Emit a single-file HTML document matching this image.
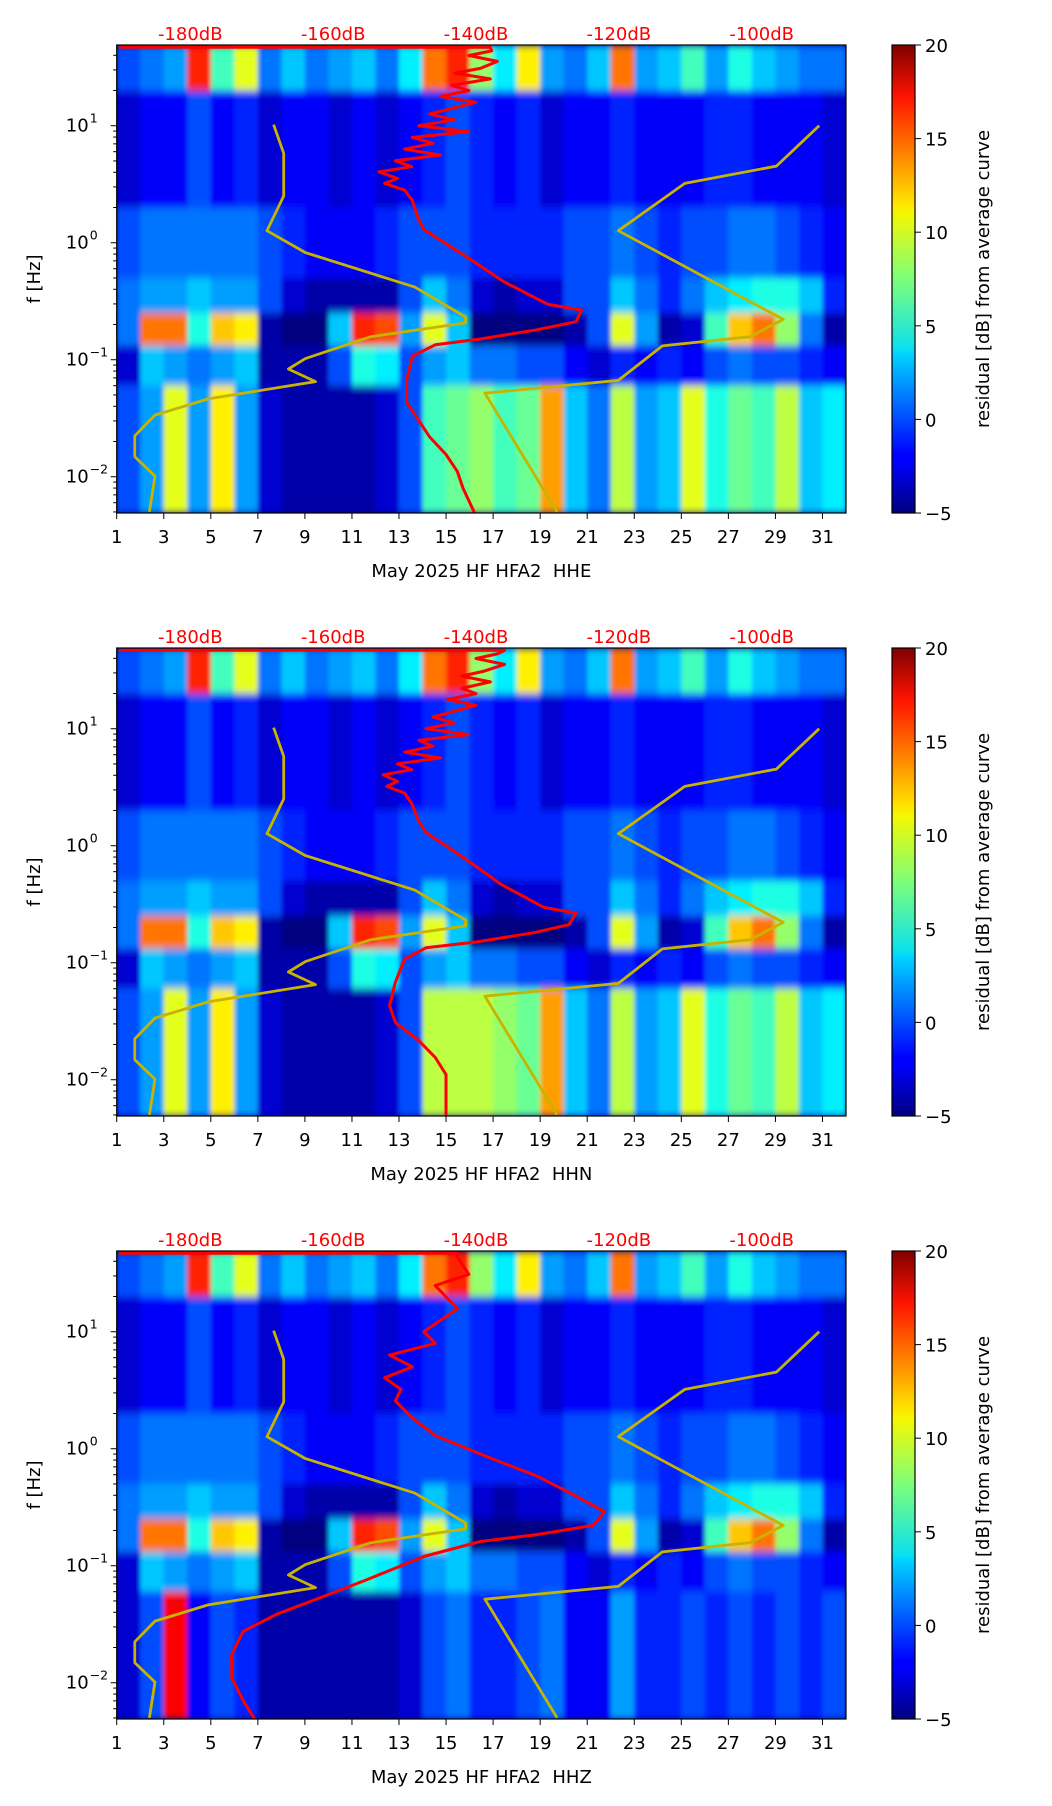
<!DOCTYPE html>
<html><head><meta charset="utf-8">
<style>
html,body{margin:0;padding:0;background:#fff;}
svg{display:block;font-family:"DejaVu Sans","Liberation Sans",sans-serif;}
</style></head>
<body>
<svg id="fig" width="1052" height="1806" viewBox="0 0 1052 1806" xmlns="http://www.w3.org/2000/svg">
<defs>
<linearGradient id="jetgrad" x1="0" y1="1" x2="0" y2="0">
<stop offset="0" stop-color="#00007f"/><stop offset="0.11" stop-color="#0000ff"/><stop offset="0.125" stop-color="#0000ff"/>
<stop offset="0.34" stop-color="#00d4ff"/><stop offset="0.35" stop-color="#0ae0f0"/><stop offset="0.5" stop-color="#7cff7a"/>
<stop offset="0.64" stop-color="#f4f802"/><stop offset="0.66" stop-color="#ffe600"/><stop offset="0.89" stop-color="#ff1300"/><stop offset="1" stop-color="#7f0000"/>
</linearGradient>
<filter id="soft" x="0" y="0" width="1" height="1"><feGaussianBlur stdDeviation="2 4"/></filter>
</defs>
</svg>
<script>
// ---- data ----
const dayTicks = [1,3,5,7,9,11,13,15,17,19,21,23,25,27,29,31];
const dbTicks = [-180,-160,-140,-120,-100];
const yTickExp = [-2,-1,0,1];
const cbarTicks = [20,15,10,5,0,-5];
const bandEdgesLogF = [1.69,1.3,0.3,-0.3,-0.6,-0.88,-1.22,-2.31];
const rowHigh = [0,1,2,16,6,10,1,3,1,2,3,1,4,14,16,8,4,11,2,1,3,14,2,3,6,2,5,3,2,1,1];
const rowMid = [-3,-2,-2,0,-2,-1,-3,-2,-2,-3,-2,-3,-2,-1,0,-1,-2,-1,-3,-2,-2,-1,-2,-2,-2,-1,-1,-2,-2,-2,-3];
const rowHaze = [0,1,1,1,1,1,0,-1,-2,-2,-2,-1,0,0,0,-1,-1,-1,-1,0,0,1,0,-1,0,0,1,1,0,-1,-2];
const rowUpperMicro = [1,2,2,3,2,2,0,-3,-4,-4,-4,-4,0,3,1,-3,-4,-3,-3,0,0,3,1,-1,1,3,4,5,5,3,-1];
const rowPeak = [1,14,14,5,12,11,-4,-5,-5,3,16,15,2,10,3,-5,-5,-5,-5,-4,0,10,2,-4,-3,6,12,14,8,1,-4];
const rowLowMicro = [-3,3,2,1,2,3,-4,-4,-4,0,5,4,0,2,3,1,1,0,0,-2,-3,-1,-2,-1,-2,0,1,0,0,-1,-2];
const rowBottomHHE = [0,2,10,2,11,2,-3,-4,-4,-4,-4,-3,0,6,7,8,6,7,13,3,1,9,2,3,10,5,7,6,9,3,4];
const rowBottomHHN = [0,2,10,2,11,2,-3,-4,-4,-4,-4,-3,0,9,9,9,8,7,13,3,1,9,2,3,10,5,7,6,9,3,4];
const rowBottomHHZ = [-3,0,17,-2,0,-1,-4,-4,-4,-4,-4,-4,-3,0,1,-1,-1,0,1,-2,-2,2,-1,-1,0,-1,0,-1,0,-1,0];
// yellow reference curves (day, log10 Hz)
const yelA_day = [7.67,8.10,8.10,7.39,9.02,13.67,15.83,15.83,11.80,9.02,8.30,9.45,4.89,2.63,1.77,1.77,2.63,2.39];
const yelA_logF = [1.01,0.764,0.399,0.103,-0.084,-0.379,-0.635,-0.685,-0.803,-0.99,-1.079,-1.187,-1.335,-1.473,-1.65,-1.83,-1.995,-2.30];
const yelB_day = [30.86,29.04,25.15,22.32,29.33,27.93,24.19,22.32,16.65,19.72];
const yelB_logF = [1.0,0.655,0.507,0.103,-0.655,-0.803,-0.882,-1.177,-1.286,-2.30];
// red mean PSD curves (log10 Hz, dB)
const red1_logF = [1.67,1.67,1.64,1.60,1.55,1.49,1.45,1.40,1.345,1.30,1.25,1.20,1.10,1.05,1.0,0.95,0.90,0.85,0.80,0.75,0.70,0.65,0.606,0.55,0.507,0.45,0.36,0.21,0.113,-0.133,-0.33,-0.527,-0.576,-0.675,-0.744,-0.823,-0.872,-0.97,-1.167,-1.364,-1.51,-1.66,-1.81,-1.956,-2.10,-2.31];
const red1_db = [-190,-138,-137.8,-141,-137,-139.4,-143,-138,-143.4,-141,-145,-140,-146.5,-143,-148,-141,-148.9,-146,-150,-145,-151.3,-149,-153.6,-151,-152.8,-150,-148.9,-148.1,-147.3,-141,-136.2,-129.9,-125.2,-126,-131.5,-139.4,-145.7,-148.9,-149.7,-149.7,-148.1,-146.5,-144.2,-142.6,-141.8,-140.2];
const red2_logF = [1.67,1.67,1.64,1.60,1.55,1.49,1.45,1.40,1.345,1.30,1.25,1.20,1.10,1.05,1.0,0.95,0.90,0.85,0.80,0.75,0.70,0.65,0.606,0.55,0.507,0.45,0.36,0.21,0.113,-0.133,-0.33,-0.527,-0.576,-0.675,-0.744,-0.823,-0.872,-0.97,-1.167,-1.364,-1.51,-1.66,-1.81,-1.956,-2.10,-2.31];
const red2_db = [-190,-136,-137,-140,-136,-139,-142,-138,-142,-140,-144,-140,-146,-143,-147,-141,-148,-146,-150,-145,-151,-149,-153,-151,-152.5,-150,-149,-148,-147,-141,-136.5,-130.5,-126,-127,-132,-140,-147,-150,-151.3,-152.1,-151.3,-148.1,-145.7,-144.2,-144.2,-144.2];
const red3_logF = [1.67,1.67,1.64,1.49,1.394,1.197,1.0,0.90,0.80,0.70,0.606,0.507,0.409,0.261,0.113,-0.084,-0.232,-0.379,-0.537,-0.655,-0.734,-0.793,-0.921,-1.118,-1.266,-1.414,-1.562,-1.759,-1.956,-2.153,-2.31];
const red3_db = [-190,-142.6,-142.6,-141,-145.7,-142.6,-147.3,-145.7,-152.1,-148.9,-152.8,-150.5,-151.3,-148.9,-145.7,-137.8,-131.5,-126.8,-122,-123.6,-131.5,-139.4,-147.3,-155.2,-161.5,-167.9,-172.6,-174.2,-174.2,-172.6,-171];
const panelNames = ["HHE","HHN","HHZ"];

// ---- layout ----
const L=116.7, R=846, H=468, tops=[45,648,1251];
const dayMin=1, dayMax=32, lfMin=-2.31, lfMax=1.69, dbMin=-190.3, dbMax=-88.2;
const CBX=892, CBW=23;
const NS="http://www.w3.org/2000/svg";
const svg=document.getElementById('fig');
function xDay(d){return L+(d-dayMin)/(dayMax-dayMin)*(R-L);}
function xDb(v){return L+(v-dbMin)/(dbMax-dbMin)*(R-L);}
function yF(top,lf){return top+(lfMax-lf)/(lfMax-lfMin)*H;}
function mk(tag,attrs,parent){const e=document.createElementNS(NS,tag);for(const k in attrs)e.setAttribute(k,attrs[k]);(parent||svg).appendChild(e);return e;}
function jet(v){let t=(v+5)/25;t=Math.max(0,Math.min(1,t));
 const r=Math.min(1,Math.max(0,Math.min(4*t-1.5,-4*t+4.5)));
 const g=Math.min(1,Math.max(0,Math.min(4*t-0.5,-4*t+3.5)));
 const b=Math.min(1,Math.max(0,Math.min(4*t+0.5,-4*t+2.5)));
 return `rgb(${Math.round(r*255)},${Math.round(g*255)},${Math.round(b*255)})`;}

tops.forEach((top,pi)=>{
 const rows=[rowHigh,rowMid,rowHaze,rowUpperMicro,rowPeak,rowLowMicro,[rowBottomHHE,rowBottomHHN,rowBottomHHZ][pi]];
 const g=mk('g',{});
 
 
 const cid='clip'+pi;
 const cp=mk('clipPath',{id:cid},g);mk('rect',{x:L,y:top,width:R-L,height:H},cp);
 const hm=mk('g',{'clip-path':`url(#${cid})`},g);
 
 
 mk('rect',{x:L,y:top,width:R-L,height:H,fill:'#00008f'},hm);
 const inner=mk('g',{filter:'url(#soft)'},hm);
 rows.forEach((vals,ri)=>{
  const y0=yF(top,bandEdgesLogF[ri]), y1=yF(top,bandEdgesLogF[ri+1]);
  vals.forEach((v,di)=>{
   const d=dayMin+di;
   const c=mk('rect',{x:xDay(d),y:y0,width:xDay(d+1)-xDay(d)+0.5,height:y1-y0+0.5,fill:jet(v)},inner);
   
   
  });
 });
 [[yelA_day,yelA_logF],[yelB_day,yelB_logF]].forEach((s,si)=>{
  const pts=s[0].map((d,i)=>xDay(d).toFixed(1)+','+yF(top,s[1][i]).toFixed(1)).join(' ');
  const pl=mk('polyline',{points:pts,fill:'none',stroke:'#c8b400',"stroke-width":2.8,"stroke-linejoin":'round'},hm);
  
  
 });
 const rl=[[red1_logF,red1_db],[red2_logF,red2_db],[red3_logF,red3_db]][pi];
 const rpts=rl[0].map((lf,i)=>xDb(rl[1][i]).toFixed(1)+','+yF(top,lf).toFixed(1)).join(' ');
 const rp=mk('polyline',{points:rpts,fill:'none',stroke:'#ff0000',"stroke-width":3,"stroke-linejoin":'round'},hm);
 
 
 const fr=mk('rect',{x:L,y:top,width:R-L,height:H,fill:'none',stroke:'#000','stroke-width':1.2},g);
 
 
 dayTicks.forEach(d=>{
  const x=xDay(d);
  mk('line',{x1:x,x2:x,y1:top+H,y2:top+H+6,stroke:'#000','stroke-width':1},g);
  const t=mk('text',{x:x,y:top+H+30,'text-anchor':'middle','font-size':18,fill:'#000'},g);
  t.textContent=d;
  
  
 });
 dbTicks.forEach(v=>{
  const t=mk('text',{x:xDb(v),y:top-5,'text-anchor':'middle','font-size':18,fill:'#ff0000'},g);
  t.textContent=v+'dB';
  
  
 });
 for(let e=-3;e<=1;e++){for(let m=1;m<10;m++){const lf=e+Math.log10(m);if(lf<lfMin||lf>lfMax)continue;
  const y=yF(top,lf);mk('line',{x1:L-(m===1?6:3.5),x2:L,y1:y,y2:y,stroke:'#000','stroke-width':1},g);}}
 yTickExp.forEach(e=>{
  const y=yF(top,e);
  const t=mk('text',{x:L-28,y:y+6,'text-anchor':'end','font-size':18,fill:'#000'},g);
  t.textContent='10';
  
  
  const s=mk('text',{x:L-27,y:y-3,'text-anchor':'start','font-size':12.5,fill:'#000'},g);
  s.textContent=(e<0?'\u2212':'')+Math.abs(e);
 });
 const yl=mk('text',{x:0,y:0,transform:`translate(40,${top+H/2}) rotate(-90)`,'text-anchor':'middle','font-size':18,fill:'#000'},g);
 yl.textContent='f [Hz]';
 
 
 const xl=mk('text',{x:(L+R)/2,y:top+H+64,'text-anchor':'middle','font-size':18,fill:'#000'},g);
 xl.textContent='May 2025 HF HFA2\u00a0\u00a0'+panelNames[pi];
 
 
 const cb=mk('rect',{x:CBX,y:top,width:CBW,height:H,fill:'url(#jetgrad)',stroke:'#000','stroke-width':1.2},g);
 
 
 cbarTicks.forEach(v=>{
  const y=top+(20-v)/25*H;
  mk('line',{x1:CBX+CBW,x2:CBX+CBW+6,y1:y,y2:y,stroke:'#000','stroke-width':1},g);
  const t=mk('text',{x:CBX+CBW+10,y:y+7,'font-size':18,fill:'#000'},g);
  t.textContent=(v<0?'\u2212':'')+Math.abs(v);
  
  
 });
 const cl=mk('text',{x:0,y:0,transform:`translate(989,${top+H/2}) rotate(-90)`,'text-anchor':'middle','font-size':18,fill:'#000'},g);
 cl.textContent='residual [dB] from average curve';
 
 
});
</script>
</body></html>
